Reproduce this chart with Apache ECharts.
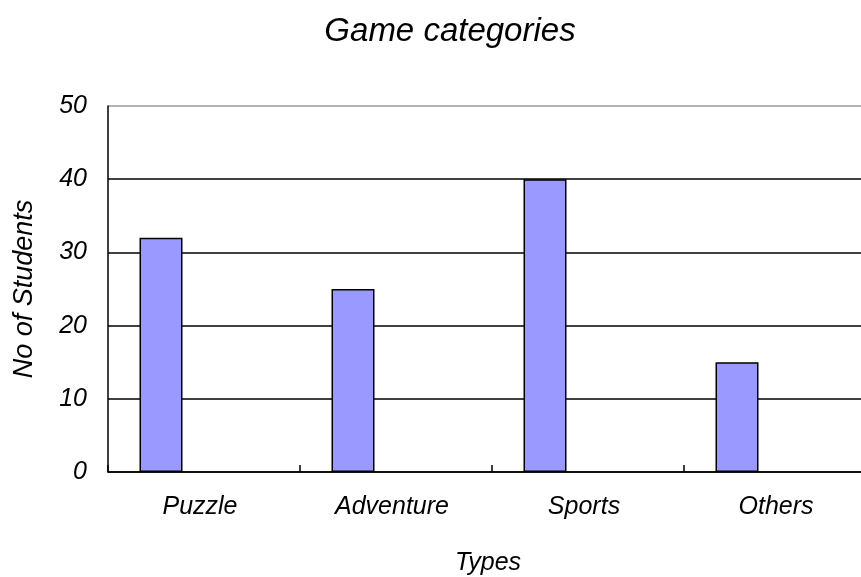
<!DOCTYPE html>
<html>
<head>
<meta charset="utf-8">
<script src="https://cdn.jsdelivr.net/npm/echarts@6/dist/echarts.min.js"></script>
<style>
html,body{margin:0;padding:0;background:#fff;}
#chart{width:861px;height:577px;}
</style>
</head>
<body>
<div id="chart"></div>
<script>
const categories = ['Puzzle', 'Adventure', 'Sports', 'Others'];
const students = [32, 25, 40, 15];
const emptySeries = [null, null, null, null];
const yTicks = [0, 10, 20, 30, 40, 50];

const font = '"Liberation Sans", Arial, sans-serif';
const chart = echarts.init(document.getElementById('chart'), null, {renderer: 'canvas'});
chart.setOption({
  animation: false,
  backgroundColor: '#fff',
  title: {
    text: 'Game categories',
    left: 445, textAlign: 'center', top: 10,
    textStyle: {fontFamily: font, fontStyle: 'italic', fontWeight: 'normal', fontSize: 33, color: '#000'}
  },
  grid: {left: 108, top: 106, width: 768, height: 366, containLabel: false, outerBoundsMode: 'none'},
  xAxis: {
    type: 'category',
    data: categories,
    name: 'Types',
    nameLocation: 'middle',
    nameGap: 79,
    nameTextStyle: {fontFamily: font, fontStyle: 'italic', fontSize: 25, color: '#000', padding: [0, 8, 0, 0]},
    axisLine: {show: true, lineStyle: {color: '#000', width: 1.5}},
    axisTick: {show: true, inside: true, length: 7, lineStyle: {color: '#000', width: 1.5}},
    axisLabel: {fontFamily: font, fontStyle: 'italic', fontSize: 25, color: '#000', margin: 23, padding: [0, 8, 0, 0]}
  },
  yAxis: {
    type: 'value',
    min: yTicks[0], max: yTicks[yTicks.length - 1], interval: 10,
    name: 'No of Students',
    nameLocation: 'middle',
    nameGap: 70,
    nameTextStyle: {fontFamily: font, fontStyle: 'italic', fontSize: 27, color: '#000'},
    axisLine: {show: true, lineStyle: {color: '#000', width: 1.5}},
    axisTick: {show: false},
    axisLabel: {fontFamily: font, fontStyle: 'italic', fontSize: 25, color: '#000', margin: 21},
    splitLine: {show: true, lineStyle: {color: ['#000', '#000', '#000', '#000', '#000', '#999'], width: 1.5}}
  },
  series: [
    {
      type: 'bar',
      data: students,
      barWidth: 43,
      barGap: '100%',
      z: 3,
      itemStyle: {color: '#9999ff', borderColor: '#000', borderWidth: 1.5}
    },
    {
      type: 'bar',
      data: emptySeries,
      barWidth: 43
    }
  ]
});
</script>
</body>
</html>
